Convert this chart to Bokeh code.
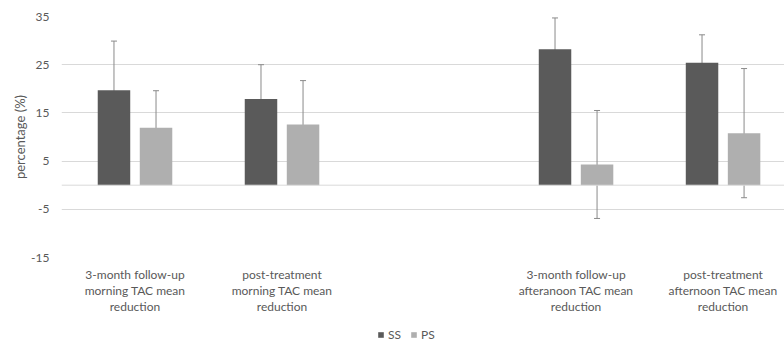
from bokeh.plotting import figure
from bokeh.layouts import column
from bokeh.models import Range1d, FixedTicker, Span, Whisker, ColumnDataSource, Legend, LegendItem
from bokeh.embed import file_html
from bokeh.resources import INLINE

categories = [
    "3-month follow-up\nmorning TAC mean\nreduction",
    "post-treatment\nmorning TAC mean\nreduction",
    "",
    "3-month follow-up\nafteranoon TAC mean\nreduction",
    "post-treatment\nafternoon TAC mean\nreduction",
]
series_names = ["SS", "PS"]
ss_values = [19.7, 17.9, None, 28.2, 25.4]
ss_errors = [10.2, 7.1, None, 6.5, 5.8]
ps_values = [11.9, 12.6, None, 4.3, 10.8]
ps_errors = [7.7, 9.1, None, 11.2, 13.4]
y_ticks = [-15, -5, 5, 15, 25, 35]

FONT = "Lato"
TXT = "#595959"
SS_COL = "#5a5a5a"
PS_COL = "#afafaf"
ERR_COL = "#8a8a8a"

offset = 0.143
bar_w = 0.221

def series(vals, errs, shift):
    xs, tops, lo, hi = [], [], [], []
    for i, (v, e) in enumerate(zip(vals, errs)):
        if v is None:
            continue
        xs.append(i + 0.5 + shift)
        tops.append(v)
        lo.append(v - e)
        hi.append(v + e)
    return ColumnDataSource(dict(x=xs, top=tops, lower=lo, upper=hi))

ss_src = series(ss_values, ss_errors, -offset)
ps_src = series(ps_values, ps_errors, offset)

p = figure(width=784, height=323, output_backend="svg", toolbar_location=None,
           x_range=Range1d(0, 4.918), y_range=Range1d(-15, 35),
           min_border_left=61, min_border_right=0, min_border_top=16, min_border_bottom=66)
p.outline_line_color = None
p.background_fill_color = "white"

p.vbar(x="x", top="top", bottom=0, width=bar_w, source=ss_src, fill_color=SS_COL, line_color=None)
p.vbar(x="x", top="top", bottom=0, width=bar_w, source=ps_src, fill_color=PS_COL, line_color=None)

for src in (ss_src, ps_src):
    w = Whisker(base="x", lower="lower", upper="upper", source=src,
                line_color=ERR_COL, line_width=1)
    w.upper_head.size = 6
    w.lower_head.size = 6
    w.upper_head.line_color = ERR_COL
    w.lower_head.line_color = ERR_COL
    p.add_layout(w)

p.add_layout(Span(location=0, dimension="width", line_color="#d9d9d9", line_width=1))

# y axis
p.yaxis.ticker = FixedTicker(ticks=y_ticks)
p.yaxis.major_label_overrides = {t: str(t) for t in y_ticks}
p.yaxis.axis_line_color = None
p.yaxis.major_tick_line_color = None
p.yaxis.minor_tick_line_color = None
p.yaxis.major_tick_out = 0
p.yaxis.major_tick_in = 0
p.yaxis.minor_tick_out = 0
p.yaxis.major_label_text_font = FONT
p.yaxis.major_label_text_font_size = "12px"
p.yaxis.major_label_text_color = TXT
p.yaxis.major_label_standoff = 12
p.yaxis.axis_label = "percentage (%)"
p.yaxis.axis_label_text_font = FONT
p.yaxis.axis_label_text_font_size = "13px"
p.yaxis.axis_label_text_font_style = "normal"
p.yaxis.axis_label_text_color = TXT
p.yaxis.axis_label_standoff = 0

p.ygrid.ticker = FixedTicker(ticks=y_ticks)
p.ygrid.grid_line_color = "#d9d9d9"
p.xgrid.grid_line_color = None

# x axis
p.xaxis.ticker = FixedTicker(ticks=[i + 0.5 for i, c in enumerate(categories) if c])
p.xaxis.major_label_overrides = {i + 0.5: c for i, c in enumerate(categories) if c}
p.xaxis.axis_line_color = None
p.xaxis.major_tick_line_color = None
p.xaxis.minor_tick_line_color = None
p.xaxis.major_tick_out = 0
p.xaxis.major_tick_in = 0
p.xaxis.minor_tick_out = 0
p.xaxis.major_label_text_font = FONT
p.xaxis.major_label_text_font_size = "12px"
p.xaxis.major_label_text_color = TXT
p.xaxis.major_label_standoff = 9
p.xaxis.major_label_text_line_height = 1.07

# legend strip below the chart (its renderers sit outside the strip's view)
lg = figure(width=784, height=20, output_backend="svg", toolbar_location=None,
            x_range=Range1d(100, 101), y_range=Range1d(100, 101),
            x_axis_location=None, y_axis_location=None,
            min_border_left=0, min_border_right=0, min_border_top=0, min_border_bottom=0)
lg.outline_line_color = None
lg.xgrid.visible = False
lg.ygrid.visible = False
r1 = lg.vbar(x="x", top="top", width=bar_w, source=ss_src, fill_color=SS_COL, line_color=None)
r2 = lg.vbar(x="x", top="top", width=bar_w, source=ps_src, fill_color=PS_COL, line_color=None)
legend = Legend(items=[LegendItem(label=series_names[0], renderers=[r1]),
                       LegendItem(label=series_names[1], renderers=[r2])],
                orientation="horizontal", location=(316, 1),
                label_text_font=FONT, label_text_font_size="12px", label_text_color=TXT,
                glyph_width=7, glyph_height=7, padding=0, spacing=2, label_standoff=4,
                border_line_color=None, background_fill_alpha=0, margin=0)
lg.add_layout(legend, "center")

layout = column(p, lg, spacing=0)
open("out.html", "w").write(file_html(layout, INLINE))
